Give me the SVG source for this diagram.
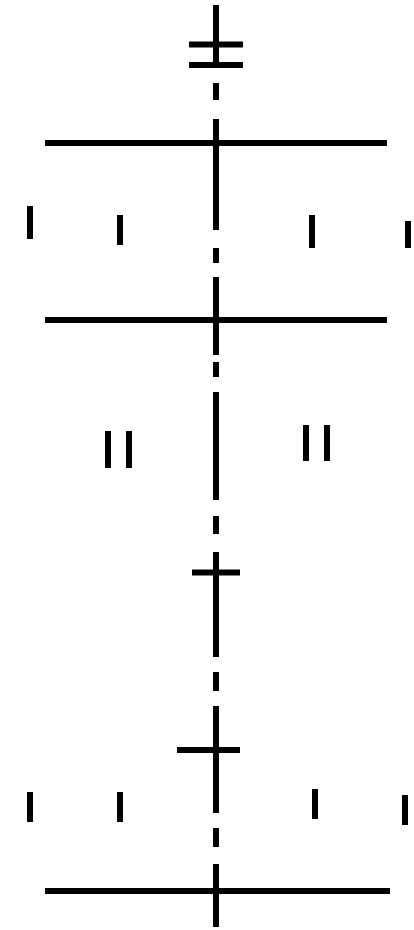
<svg xmlns="http://www.w3.org/2000/svg" width="414" height="930" viewBox="0 0 414 930">
<style>
line{stroke:#000;stroke-width:6;stroke-linecap:butt}
</style>
<rect width="414" height="930" fill="#fff"/>
<g id="axis">
<line x1="216" y1="5" x2="216" y2="68"/>
<line x1="216" y1="83" x2="216" y2="100"/>
<line x1="216" y1="119" x2="216" y2="230"/>
<line x1="216" y1="248" x2="216" y2="263"/>
<line x1="216" y1="277" x2="216" y2="355"/>
<line x1="216" y1="362" x2="216" y2="377"/>
<line x1="216" y1="392" x2="216" y2="500"/>
<line x1="216" y1="516" x2="216" y2="534"/>
<line x1="216" y1="552" x2="216" y2="657"/>
<line x1="216" y1="672" x2="216" y2="691"/>
<line x1="216" y1="706" x2="216" y2="813"/>
<line x1="216" y1="828" x2="216" y2="847"/>
<line x1="216" y1="864" x2="216" y2="927"/>
</g>
<g id="crossbars">
<line x1="189" y1="44.5" x2="243" y2="44.5"/>
<line x1="189" y1="65" x2="243" y2="65"/>
<line x1="45" y1="143" x2="387" y2="143"/>
<line x1="45" y1="320" x2="387" y2="320"/>
<line x1="192" y1="572.5" x2="240" y2="572.5"/>
<line x1="177" y1="750" x2="240" y2="750"/>
<line x1="45" y1="891" x2="390" y2="891"/>
</g>
<g id="ticks">
<line x1="30" y1="206" x2="30" y2="239"/>
<line x1="120" y1="215" x2="120" y2="245"/>
<line x1="312" y1="215" x2="312" y2="248"/>
<line x1="408" y1="221" x2="408" y2="248"/>
<line x1="108" y1="431" x2="108" y2="468"/>
<line x1="129" y1="431" x2="129" y2="468"/>
<line x1="306" y1="425" x2="306" y2="461"/>
<line x1="327" y1="425" x2="327" y2="461"/>
<line x1="30" y1="792" x2="30" y2="822"/>
<line x1="120" y1="792" x2="120" y2="822"/>
<line x1="315" y1="789" x2="315" y2="819"/>
<line x1="405" y1="795" x2="405" y2="825"/>
</g>
</svg>
